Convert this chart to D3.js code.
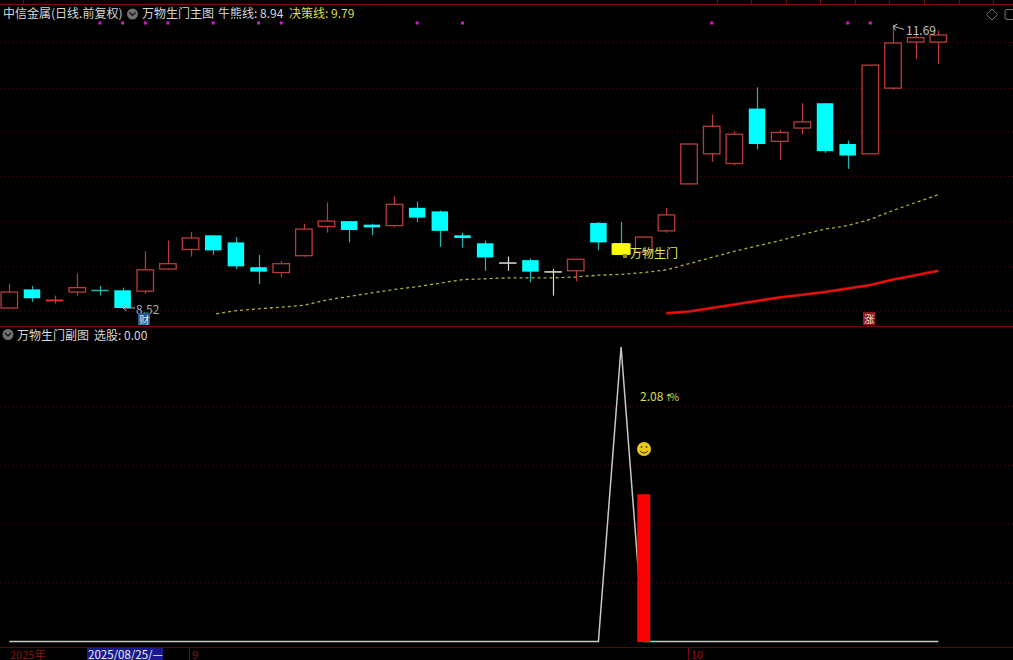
<!DOCTYPE html>
<html>
<head>
<meta charset="utf-8">
<script src="https://cdn.jsdelivr.net/npm/d3@7"></script>
<style>
  html, body { margin: 0; padding: 0; background: #000; overflow: hidden; }
  text { font-family: "Noto Sans CJK SC", "DejaVu Sans", sans-serif; }
</style>
</head>
<body>
<svg id="chart"></svg>
<script>
const width = 1013;
const height = 660;

// 日K数据
const opens = [8.52, 8.73, 8.60, 8.70, 8.72, 8.72, 8.71, 8.96, 9.18, 9.34, 9.26, 8.98, 8.92, 9.11, 9.44, 9.50, 9.46, 9.45, 9.65, 9.61, 9.34, 9.25, 9.03, 9.06, 8.93, 8.94, 9.48, 9.25, 9.15, 9.39, 9.92, 10.26, 10.15, 10.77, 10.40, 10.55, 10.83, 10.37, 10.26, 11.00, 11.52, 11.52];
const closes = [8.70, 8.63, 8.61, 8.75, 8.72, 8.52, 8.95, 9.02, 9.31, 9.17, 8.99, 8.93, 9.02, 9.41, 9.50, 9.40, 9.43, 9.69, 9.54, 9.39, 9.31, 9.09, 9.03, 8.93, 8.93, 9.07, 9.26, 9.12, 9.32, 9.57, 10.37, 10.57, 10.48, 10.37, 10.50, 10.62, 10.29, 10.24, 11.26, 11.51, 11.57, 11.60];
const highs = [8.79, 8.77, 8.66, 8.91, 8.77, 8.75, 9.16, 9.28, 9.38, 9.34, 9.32, 9.12, 9.05, 9.47, 9.71, 9.50, 9.47, 9.78, 9.72, 9.62, 9.37, 9.28, 9.10, 9.08, 8.96, 9.07, 9.49, 9.49, 9.32, 9.65, 10.37, 10.70, 10.51, 11.01, 10.53, 10.83, 10.83, 10.41, 11.26, 11.69, 11.60, 11.65];
const lows = [8.52, 8.59, 8.57, 8.66, 8.66, 8.52, 8.68, 8.95, 9.10, 9.12, 8.96, 8.79, 8.87, 9.10, 9.37, 9.26, 9.34, 9.43, 9.49, 9.21, 9.20, 8.94, 8.94, 8.81, 8.66, 8.82, 9.17, 9.12, 9.15, 9.37, 9.92, 10.17, 10.13, 10.31, 10.19, 10.48, 10.27, 10.09, 10.26, 10.98, 11.33, 11.27];

// 决策线从第9根开始，牛熊线从第29根开始
const decisionStart = 9;
const decisionLine = [8.45, 8.49, 8.51, 8.53, 8.55, 8.61, 8.65, 8.69, 8.73, 8.76, 8.80, 8.84, 8.85, 8.86, 8.86, 8.86, 8.87, 8.89, 8.90, 8.92, 8.95, 9.02, 9.09, 9.16, 9.22, 9.28, 9.35, 9.41, 9.45, 9.52, 9.62, 9.71, 9.80];
const bullStart = 29;
const bullLine = [8.46, 8.48, 8.52, 8.56, 8.60, 8.64, 8.67, 8.70, 8.74, 8.78, 8.84, 8.89, 8.94];

const signalDots = [4, 5, 6, 7, 9, 11, 12, 18, 20, 31, 37, 38];
const priceGrid = [8.49, 8.99, 9.5, 10.01, 10.51, 11.0, 11.52];

// 副图
const subPeakIndex = 27;
const subPeakValue = 1;
const subBarIndex = 28;
const subBarValue = 0.5;
const subGrid = [0.2, 0.4, 0.6, 0.8];
const topTicks = [23, 717, 751, 786, 820, 855, 889, 924, 959, 993];
const monthTicks = [{ pos: 189, label: '9' }, { pos: 688, label: '10' }];

const red = '#b93c3c';
const cyan = '#00ffff';
const gridRed = '#471010';
const lineRed = '#6e0f0f';

const svg = d3.select('#chart')
  .attr('width', width)
  .attr('height', height)
  .style('display', 'block');

svg.append('rect')
  .attr('width', width)
  .attr('height', height)
  .attr('fill', '#000');

const xScale = d3.scaleLinear().domain([0, 41]).range([9.3, 938.3]);
const yScale = d3.scaleLinear().domain([8.52, 11.69]).range([308, 27]);
const subY = d3.scaleLinear().domain([0, 1]).range([641.5, 347]);

// 网格线
function dotted(g) {
  g.select('.domain').remove();
  g.selectAll('text').remove();
  g.selectAll('line')
    .attr('stroke', gridRed)
    .attr('stroke-dasharray', '1 3');
}
svg.append('g')
  .call(d3.axisLeft(yScale).tickValues(priceGrid).tickSize(-width).tickFormat(''))
  .call(dotted);
svg.append('g')
  .call(d3.axisLeft(subY).tickValues(subGrid).tickSize(-width).tickFormat(''))
  .call(dotted);

// 上边框和分隔线
svg.append('line').attr('x1', 0).attr('x2', width).attr('y1', 4.5).attr('y2', 4.5).attr('stroke', lineRed);
svg.append('g').selectAll('line')
  .data(topTicks)
  .enter()
  .append('line')
  .attr('x1', d => d + 0.5)
  .attr('x2', d => d + 0.5)
  .attr('y1', 0)
  .attr('y2', 4)
  .attr('stroke', lineRed);
svg.append('line').attr('x1', 0).attr('x2', width).attr('y1', 326.5).attr('y2', 326.5).attr('stroke', lineRed);
svg.append('line').attr('x1', 0).attr('x2', width).attr('y1', 647.5).attr('y2', 647.5).attr('stroke', '#4a0c0c');

// 信号点
svg.append('g').selectAll('rect')
  .data(signalDots)
  .enter()
  .append('rect')
  .attr('x', d => xScale(d) - 1.5)
  .attr('y', 21.5)
  .attr('width', 3)
  .attr('height', 3)
  .attr('fill', '#d616d6');

// K线
const candles = opens.map((o, i) => ({ i, o, c: closes[i], h: highs[i], l: lows[i] }));
const candleWidth = 16.5;

function wickColor(d) {
  if (d.i === 22 || d.i === 24) return '#dddddd';
  if (d.i === 2) return '#e03030';
  if (d.o === d.c && d.i === 4) return '#1fb3a8';
  return d.c >= d.o ? red : '#22b5b5';
}

const candle_g = svg.append('g').attr('id', 'candles');
const candle = candle_g.selectAll('g')
  .data(candles)
  .enter()
  .append('g');

candle.append('line')
  .attr('x1', d => Math.round(xScale(d.i)) + 0.5)
  .attr('x2', d => Math.round(xScale(d.i)) + 0.5)
  .attr('y1', d => yScale(d.h))
  .attr('y2', d => yScale(d.l))
  .attr('stroke', wickColor)
  .attr('stroke-width', 1.2);

candle.filter(d => d.c >= d.o || d.i === 22 || d.i === 24)
  .append('rect')
  .attr('x', d => xScale(d.i) - candleWidth / 2)
  .attr('y', d => yScale(Math.max(d.o, d.c)))
  .attr('width', candleWidth)
  .attr('height', d => Math.max(0.5, yScale(Math.min(d.o, d.c)) - yScale(Math.max(d.o, d.c))))
  .attr('fill', '#000')
  .attr('stroke', wickColor)
  .attr('stroke-width', d => (d.i === 2 || d.i === 4 || d.i === 22 || d.i === 24) ? 1 : 1.3);

candle.filter(d => d.c < d.o)
  .append('rect')
  .attr('x', d => xScale(d.i) - candleWidth / 2)
  .attr('y', d => yScale(d.o))
  .attr('width', candleWidth)
  .attr('height', d => yScale(d.c) - yScale(d.o))
  .attr('fill', d => d.i === subPeakIndex ? '#ffff00' : cyan);

// 黄色选股框比K线略宽
svg.append('rect')
  .attr('x', xScale(subPeakIndex) - 9.5)
  .attr('y', yScale(opens[subPeakIndex]))
  .attr('width', 19)
  .attr('height', yScale(closes[subPeakIndex]) - yScale(opens[subPeakIndex]))
  .attr('fill', '#ffff00');

// 决策线、牛熊线
const priceLine = start => d3.line()
  .x((d, i) => xScale(start + i))
  .y(d => yScale(d));

svg.append('path')
  .attr('d', priceLine(decisionStart)(decisionLine))
  .attr('fill', 'none')
  .attr('stroke', '#b0b038')
  .attr('stroke-width', 1.3)
  .attr('stroke-dasharray', '3 3')
  .attr('stroke-dashoffset', 3);

svg.append('path')
  .attr('d', priceLine(bullStart)(bullLine))
  .attr('fill', 'none')
  .attr('stroke', '#8c1414')
  .attr('stroke-width', 3);
svg.append('path')
  .attr('d', priceLine(bullStart)(bullLine))
  .attr('fill', 'none')
  .attr('stroke', '#ff0a0a')
  .attr('stroke-width', 1.6);

// 副图折线：平时为0，选股当天为1
const subValues = opens.map((d, i) => i === subPeakIndex ? subPeakValue : 0);
svg.append('path')
  .attr('d', d3.line().x((d, i) => xScale(i)).y(d => subY(d))(subValues))
  .attr('fill', 'none')
  .attr('stroke', '#c8c8c8')
  .attr('stroke-width', 1.5);

svg.append('rect')
  .attr('x', xScale(subBarIndex) - 6.5)
  .attr('y', subY(subBarValue))
  .attr('width', 13)
  .attr('height', subY(0) - subY(subBarValue) + 0.5)
  .attr('fill', '#ff0000');

// 文字
function label(x, y, str, color, size) {
  return svg.append('text')
    .attr('x', x)
    .attr('y', y)
    .attr('fill', color)
    .attr('font-size', size || 12)
    .text(str);
}
function chevron(cx, cy) {
  svg.append('circle').attr('cx', cx).attr('cy', cy).attr('r', 5.5).attr('fill', '#6f6f6f');
  svg.append('path')
    .attr('d', `M${cx - 3},${cy - 1.5}L${cx},${cy + 1.5}L${cx + 3},${cy - 1.5}`)
    .attr('fill', 'none')
    .attr('stroke', '#111')
    .attr('stroke-width', 1.2);
}
function arrow(x1, y1, x2, y2) {
  // 从(x2,y2)指向(x1,y1)的小箭头
  const a = Math.atan2(y2 - y1, x2 - x1);
  const head = t => [x1 + 5 * Math.cos(a + t), y1 + 5 * Math.sin(a + t)];
  const [ax, ay] = head(0.7);
  const [bx, by] = head(-0.7);
  svg.append('path')
    .attr('d', `M${x2},${y2}L${x1},${y1}M${ax},${ay}L${x1},${y1}L${bx},${by}`)
    .attr('fill', 'none')
    .attr('stroke', '#b4b4b4')
    .attr('stroke-width', 1);
}

label(3, 18, '中信金属(日线.前复权)', '#d6d6d6', 12);
chevron(132.5, 14);
label(142, 18, '万物生门主图', '#d6d6d6', 12);
label(218, 18, '牛熊线: 8.94', '#d6d6d6', 12);
label(289, 18, '决策线: 9.79', '#dcdc4a', 12);

chevron(8, 334.5);
label(17, 340, '万物生门副图', '#d6d6d6', 12);
label(94, 340, '选股: 0.00', '#d6d6d6', 12);

arrow(123, 308, 135, 308);
label(136, 314, '8.52', '#a8a8a8', 12);
svg.append('rect').attr('x', 138).attr('y', 313).attr('width', 12).attr('height', 12).attr('fill', '#1d5a96');
label(139, 323.5, '财', '#e8e8e8', 10.5);

arrow(893, 26, 904, 29.5);
label(906, 35, '11.69', '#c4c4c4', 12);

svg.append('rect').attr('x', 863).attr('y', 312).attr('width', 12).attr('height', 13).attr('fill', '#8c1c1c');
label(864, 322.5, '涨', '#f0d8d8', 10.5);

svg.append('rect').attr('x', 623).attr('y', 254).attr('width', 4).attr('height', 4).attr('fill', '#8a8a20');
label(630, 258, '万物生门', '#e4e45a', 12);

const pct = label(640, 401, '2.08', '#dcdc4a', 12);
pct.append('tspan').attr('dx', 1).attr('font-size', 10).attr('style', 'font-family:"DejaVu Sans"').text('↑');
pct.append('tspan').attr('dx', -3).attr('font-size', 10).text('%');

// 笑脸
svg.append('circle').attr('cx', 644).attr('cy', 449).attr('r', 7).attr('fill', '#e8c81a');
svg.append('circle').attr('cx', 641.5).attr('cy', 447).attr('r', 0.9).attr('fill', '#4a3a00');
svg.append('circle').attr('cx', 646.5).attr('cy', 447).attr('r', 0.9).attr('fill', '#4a3a00');
svg.append('path')
  .attr('d', 'M640,451Q644,455 648,451')
  .attr('fill', 'none')
  .attr('stroke', '#4a3a00')
  .attr('stroke-width', 1);

// 右上角小图标
svg.append('path')
  .attr('d', 'M992,9L997.5,14.5L992,20L986.5,14.5Z')
  .attr('fill', 'none')
  .attr('stroke', '#777');
svg.append('rect')
  .attr('x', 1005).attr('y', 9.5).attr('width', 12).attr('height', 10).attr('rx', 2)
  .attr('fill', 'none').attr('stroke', '#777');

// 底部时间轴
label(10, 658.5, '2025年', '#8c1414', 11);
svg.append('rect').attr('x', 87).attr('y', 648).attr('width', 76).attr('height', 12).attr('fill', '#1a1a8c');
label(88, 658.5, '2025/08/25/—', '#f0f0f0', 11.5);

const month_g = svg.append('g').selectAll('g')
  .data(monthTicks)
  .enter()
  .append('g')
  .attr('transform', d => `translate(${d.pos}, 648)`);
month_g.append('line')
  .attr('x1', 0.5).attr('x2', 0.5).attr('y1', 0).attr('y2', 12)
  .attr('stroke', '#6e0f0f');
month_g.append('text')
  .attr('x', 3)
  .attr('y', 10.5)
  .attr('fill', '#8c1414')
  .attr('font-size', 11)
  .text(d => d.label);
</script>
</body>
</html>
